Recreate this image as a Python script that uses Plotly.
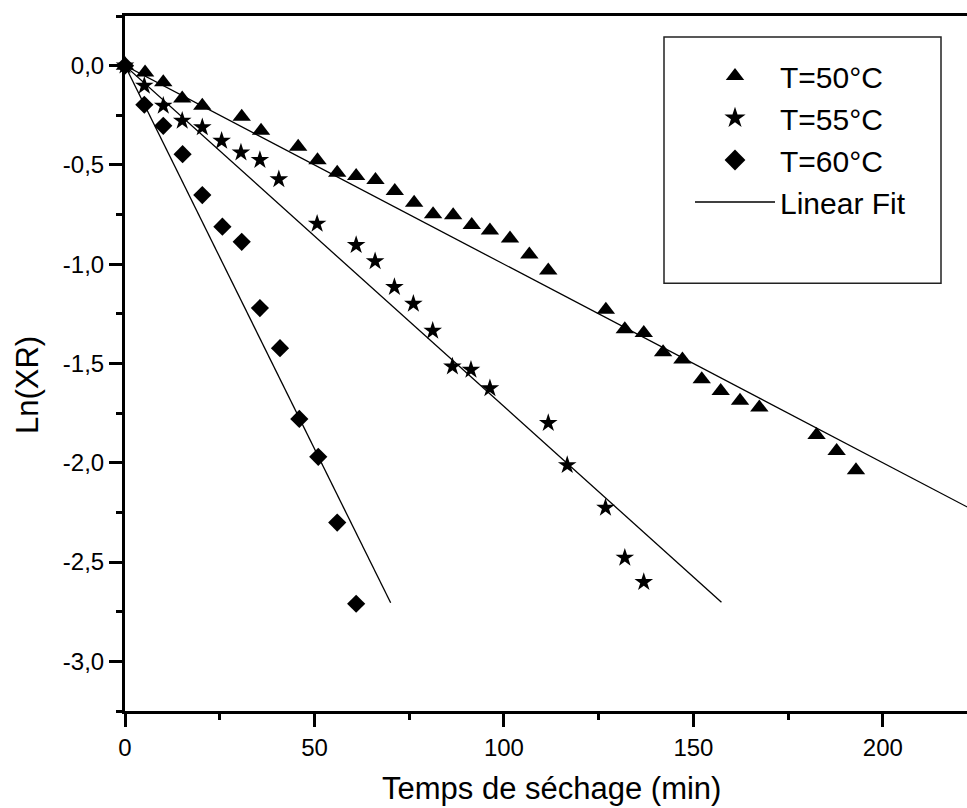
import plotly.graph_objects as go

# ---- data ----
t50 = [0, 5.3, 10.1, 15.1, 20.4, 30.8, 35.9, 45.7, 50.8, 56.0, 61.0, 66.1, 71.2, 76.3, 81.3,
       86.6, 91.5, 96.3, 101.6, 106.7, 111.7, 126.9, 131.9, 136.9, 142.0, 147.1, 152.2,
       157.2, 162.3, 167.4, 182.5, 187.8, 192.9]
v50 = [0, -0.034, -0.084, -0.165, -0.202, -0.258, -0.328, -0.409, -0.477, -0.539, -0.556,
       -0.576, -0.631, -0.69, -0.749, -0.753, -0.803, -0.83, -0.87, -0.951, -1.032, -1.229,
       -1.327, -1.347, -1.443, -1.48, -1.579, -1.638, -1.688, -1.722, -1.86, -1.941, -2.037]

t55 = [0, 5.1, 10.1, 15.1, 20.4, 25.5, 30.6, 35.6, 40.6, 50.7, 61.0, 66.0, 71.1, 76.1, 81.2,
       86.4, 91.3, 96.3, 111.7, 116.7, 126.8, 131.9, 136.9]
v55 = [0, -0.101, -0.202, -0.278, -0.311, -0.379, -0.438, -0.475, -0.572, -0.796, -0.904,
       -0.985, -1.115, -1.199, -1.335, -1.515, -1.532, -1.625, -1.80, -2.012, -2.227, -2.478,
       -2.601]

t60 = [0, 5.1, 10.1, 15.2, 20.4, 25.7, 30.8, 35.6, 40.9, 46.0, 51.0, 56.0, 61.0]
v60 = [0, -0.197, -0.303, -0.446, -0.652, -0.811, -0.887, -1.221, -1.423, -1.779, -1.97,
       -2.301, -2.71]

fit50_t = [0, 225]
fit50_v = [0, -2.25]
fit55_t = [0, 157.4]
fit55_v = [0, -2.702]
fit60_t = [0, 70.1]
fit60_v = [0, -2.705]

series_names = ["T=50°C", "T=55°C", "T=60°C"]
fit_name = "Linear Fit"

x_tickvals = [0, 50, 100, 150, 200]
x_ticktext = ["0", "50", "100", "150", "200"]
x_minorvals = [25, 75, 125, 175]
y_tickvals = [0, -0.5, -1.0, -1.5, -2.0, -2.5, -3.0]
y_ticktext = ["0,0", "-0,5", "-1,0", "-1,5", "-2,0", "-2,5", "-3,0"]
y_minorvals = [0.25, -0.25, -0.75, -1.25, -1.75, -2.25, -2.75, -3.25]

x_title = "Temps de séchage (min)"
y_title = "Ln(XR)"

FONT = "Liberation Sans, Arial, sans-serif"

symbols = ["triangle-up", "star", "diamond"]
sizes = [16, 14, 14]

fig = go.Figure()

# fit lines
for ft, fv in [(fit50_t, fit50_v), (fit55_t, fit55_v), (fit60_t, fit60_v)]:
    fig.add_trace(go.Scatter(
        x=ft, y=fv, mode="lines", showlegend=False,
        line=dict(color="black", width=1.3)))

# data markers
for tt, vv, sym, sz, nm in zip([t50, t55, t60], [v50, v55, v60], symbols, sizes, series_names):
    fig.add_trace(go.Scatter(x=tt, y=vv, mode="markers", name=nm, showlegend=False,
                             marker=dict(symbol=sym, size=sz, color="black"),
                             cliponaxis=False))

# legend entries (bigger symbols as in the reference legend)
for sym, nm, rk in zip(symbols, series_names, [1, 2, 3]):
    fig.add_trace(go.Scatter(x=[None], y=[None], mode="markers", name=nm,
                             marker=dict(symbol=sym, size=16, color="black"),
                             legendrank=rk))
fig.add_trace(go.Scatter(x=[None], y=[None], mode="lines", name=fit_name,
                         line=dict(color="black", width=1.3), legendrank=4))

L, R, T, B = 125, 0, 16, 97
W, H = 967, 808
pw, ph = W - L - R, H - T - B

def px_x(p):
    return (p - L) / pw

def px_y(p):
    return (H - B - p) / ph

axis_common = dict(
    showgrid=False, zeroline=False, showline=True, linecolor="black", linewidth=3,
    ticks="outside", ticklen=13, tickwidth=2.5, tickcolor="black",
    tickfont=dict(family=FONT, size=24, color="black"),
)

fig.update_xaxes(
    range=[0, 222.2], tickmode="array", tickvals=x_tickvals, ticktext=x_ticktext,
    mirror=True,
    minor=dict(tickmode="array", tickvals=x_minorvals, ticks="outside", ticklen=6,
               tickwidth=2.5, tickcolor="black"),
    **axis_common)
fig.update_yaxes(
    range=[-3.25, 0.25], tickmode="array", tickvals=y_tickvals, ticktext=y_ticktext,
    mirror=False,
    minor=dict(tickmode="array", tickvals=y_minorvals, ticks="outside", ticklen=6,
               tickwidth=2.5, tickcolor="black"),
    **axis_common)

fig.add_annotation(text=x_title, xref="paper", yref="paper",
                   x=px_x(551.5), y=px_y(788), xanchor="center", yanchor="middle",
                   showarrow=False, font=dict(family=FONT, size=31, color="black"))
fig.add_annotation(text=y_title, xref="paper", yref="paper", textangle=-90,
                   x=px_x(27), y=px_y(385), xanchor="center", yanchor="middle",
                   showarrow=False, font=dict(family=FONT, size=31, color="black"))

# legend frame
fig.add_shape(type="rect", xref="paper", yref="paper",
              x0=px_x(664), x1=px_x(941), y0=px_y(283.3), y1=px_y(37),
              line=dict(color="#222222", width=1.5), fillcolor="rgba(0,0,0,0)")

fig.update_layout(
    width=W, height=H,
    margin=dict(l=L, r=R, t=T, b=B, pad=0),
    paper_bgcolor="white", plot_bgcolor="white",
    font=dict(family=FONT, color="black"),
    showlegend=True,
    legend=dict(x=px_x(690), y=px_y(50), xanchor="left", yanchor="top",
                font=dict(family=FONT, size=30, color="black"),
                bgcolor="rgba(0,0,0,0)", borderwidth=0, itemwidth=80,
                traceorder="normal", tracegroupgap=0),
)

fig.write_html("out.html")
